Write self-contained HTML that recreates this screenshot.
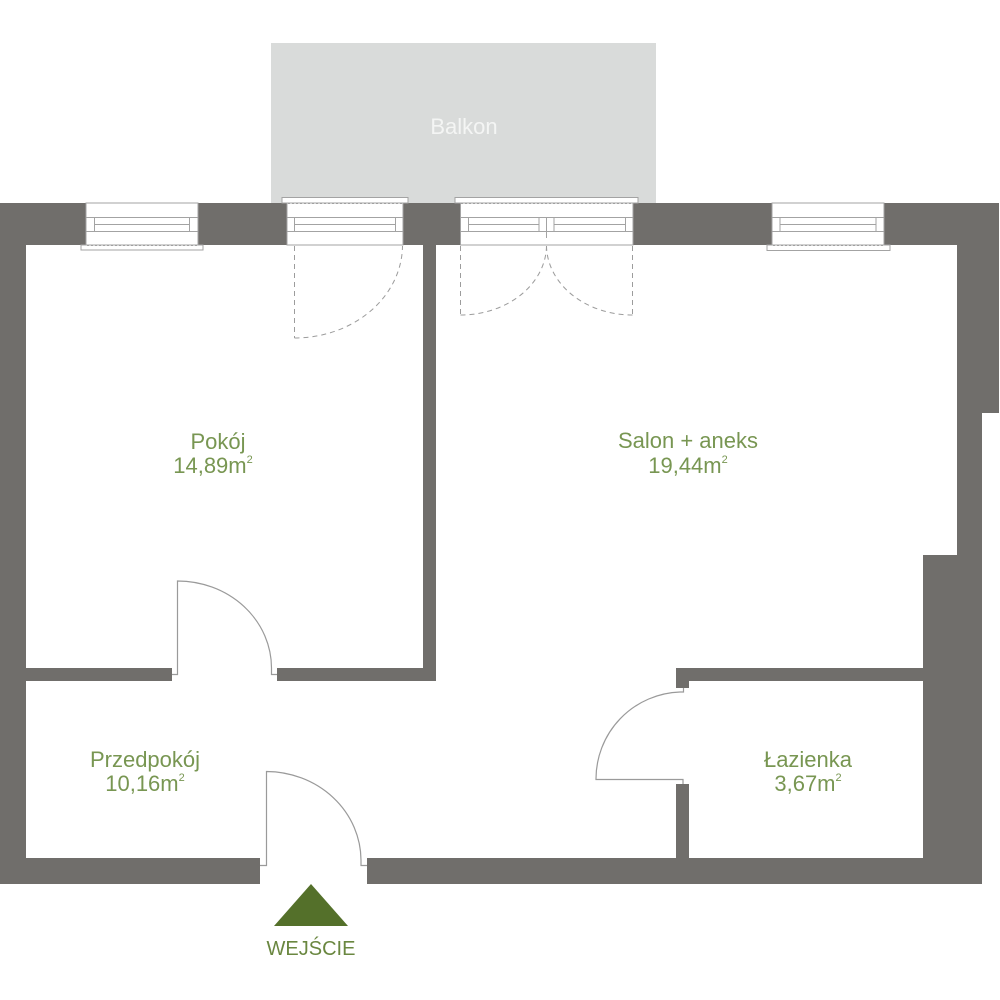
<!DOCTYPE html>
<html>
<head>
<meta charset="utf-8">
<style>
  html,body{margin:0;padding:0;background:#fff;}
  svg{display:block;}
  .lbl{font-family:"Liberation Sans","DejaVu Sans",sans-serif;font-size:22px;fill:#789652;text-anchor:middle;}
</style>
</head>
<body>
<svg width="1000" height="1000" viewBox="0 0 1000 1000" xmlns="http://www.w3.org/2000/svg">
  <rect x="0" y="0" width="1000" height="1000" fill="#ffffff"/>

  <!-- Balcony -->
  <rect x="271" y="43" width="385" height="160" fill="#d9dbda"/>
  <text x="464" y="134" font-family="Liberation Sans, sans-serif" font-size="22" fill="#f4f5f4" text-anchor="middle">Balkon</text>

  <!-- Walls -->
  <g fill="#706e6b">
    <rect x="0" y="203" width="86" height="42"/>
    <rect x="198" y="203" width="89" height="42"/>
    <rect x="403" y="203" width="58" height="42"/>
    <rect x="633" y="203" width="139" height="42"/>
    <rect x="884" y="203" width="115" height="42"/>
    <rect x="0" y="203" width="26" height="681"/>
    <rect x="957" y="203" width="42" height="210"/>
    <rect x="957" y="413" width="25" height="142"/>
    <rect x="923" y="555" width="59" height="329"/>
    <rect x="0" y="858" width="260" height="26"/>
    <rect x="367" y="858" width="615" height="26"/>
    <rect x="423" y="245" width="13" height="436"/>
    <rect x="26" y="668" width="146" height="13"/>
    <rect x="277" y="668" width="159" height="13"/>
    <rect x="676" y="668" width="247" height="13"/>
    <rect x="676" y="668" width="13" height="20"/>
    <rect x="676" y="784" width="13" height="74"/>
  </g>

  <!-- Windows -->
  <g fill="#ffffff" stroke="#a3a3a3" stroke-width="1">
    <rect x="81" y="245" width="122" height="5"/>
    <rect x="86" y="203" width="112" height="42"/>
    <line x1="86" y1="217.5" x2="198" y2="217.5"/>
    <line x1="94" y1="224.5" x2="190" y2="224.5"/>
    <line x1="86" y1="231.5" x2="198" y2="231.5"/>
    <line x1="94.5" y1="217.5" x2="94.5" y2="231.5"/>
    <line x1="189.5" y1="217.5" x2="189.5" y2="231.5"/>

    <rect x="282" y="197.5" width="126" height="5.5"/>
    <rect x="287" y="203" width="116" height="42"/>
    <line x1="287" y1="217.5" x2="403" y2="217.5"/>
    <line x1="294" y1="224.5" x2="396" y2="224.5"/>
    <line x1="287" y1="231.5" x2="403" y2="231.5"/>
    <line x1="294.5" y1="217.5" x2="294.5" y2="231.5"/>
    <line x1="395.5" y1="217.5" x2="395.5" y2="231.5"/>

    <rect x="455" y="197.5" width="183" height="5.5"/>
    <rect x="460.5" y="203" width="172.5" height="42"/>
    <line x1="460.5" y1="217.5" x2="633" y2="217.5"/>
    <line x1="468.5" y1="224.5" x2="539" y2="224.5"/>
    <line x1="554" y1="224.5" x2="625.5" y2="224.5"/>
    <line x1="460.5" y1="231.5" x2="633" y2="231.5"/>
    <line x1="468.5" y1="217.5" x2="468.5" y2="231.5"/>
    <line x1="539" y1="217.5" x2="539" y2="231.5"/>
    <line x1="546.5" y1="217.5" x2="546.5" y2="238"/>
    <line x1="554" y1="217.5" x2="554" y2="231.5"/>
    <line x1="625.5" y1="217.5" x2="625.5" y2="231.5"/>

    <rect x="767" y="245" width="123" height="5.5"/>
    <rect x="772" y="203" width="112" height="42"/>
    <line x1="772" y1="217.5" x2="884" y2="217.5"/>
    <line x1="780" y1="224.5" x2="876" y2="224.5"/>
    <line x1="772" y1="231.5" x2="884" y2="231.5"/>
    <line x1="780" y1="217.5" x2="780" y2="231.5"/>
    <line x1="876" y1="217.5" x2="876" y2="231.5"/>
  </g>

  <g stroke="#a0a0a0" stroke-width="1" stroke-dasharray="2,2" fill="none">
    <line x1="87" y1="245.5" x2="197" y2="245.5"/>
    <line x1="288" y1="203.5" x2="402" y2="203.5"/>
    <line x1="461" y1="203.5" x2="632" y2="203.5"/>
    <line x1="773" y1="245.5" x2="883" y2="245.5"/>
  </g>

  <g stroke="#9c9c9c" stroke-width="1" stroke-dasharray="5,4" fill="none">
    <line x1="294.5" y1="246" x2="294.5" y2="338"/>
    <path d="M294.5,338 A108,93 0 0 0 402.5,246"/>
    <line x1="460.5" y1="246" x2="460.5" y2="315"/>
    <path d="M460.5,315 A86,70 0 0 0 546.5,246"/>
    <line x1="632.5" y1="246" x2="632.5" y2="315"/>
    <path d="M632.5,315 A86,70 0 0 1 546.5,246"/>
  </g>

  <g stroke="#9a9a9a" stroke-width="1.2" fill="none">
    <path d="M172,674.5 L177.5,674.5 L177.5,581 A94,87 0 0 1 271.5,668 L271.5,674.5 L277,674.5"/>
    <path d="M260,865.5 L266.5,865.5 L266.5,771.5 A95,89 0 0 1 361,860 L361,865.5 L367,865.5"/>
    <path d="M683,784 L683,779.5 L596,779.5 A87,87 0 0 1 680,692 L683.5,692 L683.5,688"/>
  </g>

  <text class="lbl" x="218" y="449">Pokój</text>
  <text class="lbl" x="213" y="473">14,89m<tspan font-size="11" dy="-10">2</tspan></text>

  <text class="lbl" x="688" y="448">Salon + aneks</text>
  <text class="lbl" x="688" y="473">19,44m<tspan font-size="11" dy="-10">2</tspan></text>

  <text class="lbl" x="145" y="767">Przedpokój</text>
  <text class="lbl" x="145" y="791">10,16m<tspan font-size="11" dy="-10">2</tspan></text>

  <text class="lbl" x="808" y="767">Łazienka</text>
  <text class="lbl" x="808" y="791">3,67m<tspan font-size="11" dy="-10">2</tspan></text>

  <polygon points="311,884 348,926 274,926" fill="#54702a"/>
  <text x="311" y="955" font-family="Liberation Sans, sans-serif" font-size="20" fill="#6a8740" text-anchor="middle">WEJŚCIE</text>
</svg>
</body>
</html>
